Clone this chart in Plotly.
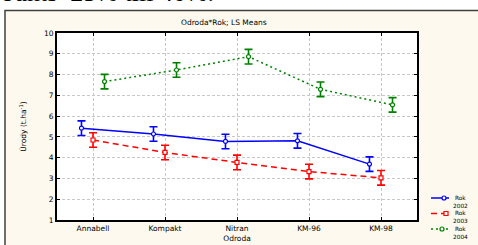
import plotly.graph_objects as go

categories = ["Annabell", "Kompakt", "Nitran", "KM-96", "KM-98"]
years = ["2002", "2003", "2004"]
means_2002 = [5.42, 5.14, 4.78, 4.81, 3.69]
means_2003 = [4.85, 4.25, 3.77, 3.33, 3.03]
means_2004 = [7.66, 8.22, 8.86, 7.29, 6.54]
err_2002 = [0.35, 0.35, 0.35, 0.35, 0.35]
err_2003 = [0.35, 0.35, 0.35, 0.35, 0.35]
err_2004 = [0.35, 0.35, 0.35, 0.35, 0.35]
y_ticks = [1, 2, 3, 4, 5, 6, 7, 8, 9, 10]

W, H = 478, 245
L, R, T, B = 57, 61, 33, 25
PW, PH = W - L - R, H - T - B

def px_x(px):
    return (px - L) / PW

def px_y(py):
    return (H - B - py) / PH

colors = ["#0000ff", "#ff0000", "#008000"]
dashes = ["solid", "6px,4px", "2px,3px"]
symbols = ["circle", "square", "circle"]
offsets = [-0.16, 0.0, 0.16]
all_means = [means_2002, means_2003, means_2004]
all_errs = [err_2002, err_2003, err_2004]

fig = go.Figure()
for vals, errs, col, dash, sym, off, yr in zip(all_means, all_errs, colors, dashes, symbols, offsets, years):
    xs = [i + off for i in range(len(categories))]
    fig.add_trace(go.Scatter(
        x=xs, y=vals, mode="lines+markers", name="Rok " + yr,
        line=dict(color=col, width=1.5, dash=dash),
        marker=dict(symbol=sym, size=4, color="white", line=dict(color=col, width=1.2)),
        error_y=dict(type="data", array=errs, visible=True, color=col, thickness=1.6, width=4),
        showlegend=False,
    ))

font = "DejaVu Sans"
fs = 7.5

shapes = [
    dict(type="rect", xref="paper", yref="paper", layer="below",
         x0=px_x(5), x1=px_x(485), y0=px_y(10.5), y1=px_y(252),
         fillcolor="#fdf9ee", line=dict(color="#404040", width=1.5)),
    dict(type="rect", xref="paper", yref="paper", layer="below",
         x0=0, x1=1, y0=0, y1=1, fillcolor="white", line=dict(width=0)),
]
annotations = [
    dict(text="Odroda*Rok; LS Means", xref="paper", yref="paper",
         x=px_x(224), y=px_y(22), xanchor="center", yanchor="middle",
         showarrow=False, font=dict(size=fs, family=font)),
    dict(text="ounts  25% till 40%.", xref="paper", yref="paper",
         x=px_x(-1), y=px_y(9.5), xanchor="left", yanchor="bottom",
         showarrow=False, font=dict(size=26, family="Liberation Serif", color="black")),
]

# legend (manual, to match compact two-line entries)
leg_y = [198, 213.5, 229]
mark_x = [444, 446, 442]
for yr, col, dash, sym, ly, mx in zip(years, colors, dashes, symbols, leg_y, mark_x):
    shapes.append(dict(type="line", xref="paper", yref="paper",
                       x0=px_x(431), x1=px_x(449), y0=px_y(ly), y1=px_y(ly),
                       line=dict(color=col, width=1.5, dash=dash)))
    shapes.append(dict(type="circle" if sym == "circle" else "rect", xref="paper", yref="paper",
                       x0=px_x(mx - 2), x1=px_x(mx + 2), y0=px_y(ly - 2), y1=px_y(ly + 2),
                       fillcolor="white", line=dict(color=col, width=1.2)))
    annotations.append(dict(text="Rok<br>" + yr, xref="paper", yref="paper",
                            x=px_x(460), y=px_y(ly + 3.8), xanchor="center", yanchor="middle",
                            align="center", borderpad=0,
                            showarrow=False, font=dict(size=5.8, family=font)))

fig.update_layout(
    width=W, height=H,
    margin=dict(l=L, r=R, t=T, b=B, pad=0, autoexpand=False),
    paper_bgcolor="white",
    plot_bgcolor="white",
    showlegend=False,
    font=dict(family=font, size=fs, color="black"),
    xaxis=dict(
        range=[-0.5, 4.5], tickmode="array",
        tickvals=list(range(len(categories))), ticktext=categories,
        showgrid=True, gridcolor="#c8c8c8", griddash="3px,2px", gridwidth=1,
        showline=True, linecolor="black", linewidth=2, mirror="ticks",
        ticks="inside", ticklen=3, tickcolor="black",
        zeroline=False, automargin=False,
        title=dict(text="Odroda", font=dict(size=fs, family=font), standoff=4),
    ),
    yaxis=dict(
        range=[1, 10], tickmode="array", tickvals=y_ticks,
        ticktext=[str(v) for v in y_ticks],
        showgrid=True, gridcolor="#c8c8c8", griddash="3px,2px", gridwidth=1,
        showline=True, linecolor="black", linewidth=2, mirror="ticks",
        ticks="inside", ticklen=3, tickcolor="black",
        zeroline=False, automargin=False,
        title=dict(text="Úrody (t.ha<sup>-1</sup>)", font=dict(size=fs, family=font), standoff=16),
    ),
    shapes=shapes,
    annotations=annotations,
)

fig.write_html("out.html", config={"displayModeBar": False},
               post_script="document.body.style.margin='0';document.body.style.overflow='hidden';")
